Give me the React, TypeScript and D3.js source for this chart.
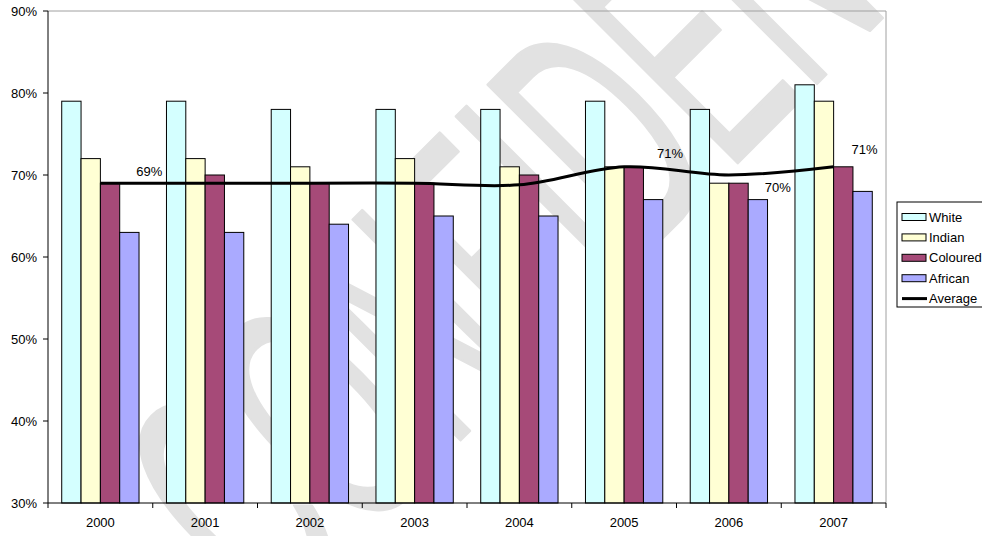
import * as d3 from "d3";
import { useEffect } from "react";

const years = ["2000", "2001", "2002", "2003", "2004", "2005", "2006", "2007"];
const seriesNames = ["White", "Indian", "Coloured", "African"];
const white = [79, 79, 78, 78, 78, 79, 78, 81];
const indian = [72, 72, 71, 72, 71, 71, 69, 79];
const coloured = [69, 70, 69, 69, 70, 71, 69, 71];
const african = [63, 63, 64, 65, 65, 67, 67, 68];
const average = [69, 69, 69, 69, 68.8, 71, 70, 71];
// which average points carry a label
const labelled = [0, 5, 6, 7];
const yTicks = [30, 40, 50, 60, 70, 80, 90];

const colours = ["#D4FFFF", "#FFFFD4", "#A64A78", "#AAAAFF"];

const width = 982;
const height = 536;
const margin = { left: 48, right: 96, top: 11, bottom: 33 };
const font = "'Liberation Sans', Arial, sans-serif";

export default function App() {
  useEffect(() => {
    document.body.style.margin = "0";
  }, []);

  const values = [white, indian, coloured, african];

  const x = d3.scaleBand()
    .domain(years)
    .range([margin.left, width - margin.right]);
  const xInner = d3.scaleBand()
    .domain(seriesNames)
    .range([0, x.bandwidth()])
    .paddingInner(0)
    .paddingOuter(0.71);
  const y = d3.scaleLinear()
    .domain([30, 90])
    .range([height - margin.bottom, margin.top]);

  const line = d3.line<number>()
    .x((_, i) => (x(years[i]) ?? 0) + x.bandwidth() / 2)
    .y((d) => y(d))
    .curve(d3.curveCatmullRom.alpha(0));

  // label nudges relative to the average point, in px
  const nudge: Record<number, [number, number]> = {
    0: [49, -12],
    5: [46, -13],
    6: [49, 12],
    7: [31, -17],
  };

  const x0 = margin.left;
  const x1 = width - margin.right;
  const yBottom = y(30);
  const yTop = y(90);

  const legendItems = [...seriesNames, "Average"];

  return (
    <svg
      width={width}
      height={height}
      viewBox={`0 0 ${width} ${height}`}
      style={{ display: "block", background: "#fff" }}
      fontFamily={font}
    >
      {/* watermark */}
      <text
        transform="translate(272,628) rotate(-45) scale(0.6,1.2)"
        fontSize={280}
        fill="#e2e2e2"
        stroke="#e2e2e2"
        strokeWidth={3}
        strokeLinejoin="round"
        fontFamily={font}
      >
        CONFIDENTIAL
      </text>

      {/* plot frame */}
      <line x1={x0} x2={x1} y1={yTop} y2={yTop} stroke="#a0a0a0" />
      <line x1={x1} x2={x1} y1={yTop} y2={yBottom} stroke="#a0a0a0" />

      {/* bars */}
      {years.map((yr, i) => (
        <g key={yr} transform={`translate(${x(yr)},0)`}>
          {seriesNames.map((s, j) => (
            <rect
              key={s}
              x={xInner(s)}
              y={y(values[j][i])}
              width={xInner.bandwidth()}
              height={yBottom - y(values[j][i])}
              fill={colours[j]}
              stroke="#000"
              strokeWidth={1}
            />
          ))}
        </g>
      ))}

      {/* axes */}
      <line x1={x0} x2={x0} y1={yTop} y2={yBottom} stroke="#000" />
      {yTicks.map((t) => (
        <g key={t}>
          <line x1={x0 - 5} x2={x0} y1={y(t)} y2={y(t)} stroke="#000" />
          <text x={37} y={y(t)} dy="0.35em" textAnchor="end" fontSize={13} fill="#000">
            {t}%
          </text>
        </g>
      ))}
      <line x1={x0} x2={x1} y1={yBottom} y2={yBottom} stroke="#000" />
      {[...years.map((yr) => x(yr) ?? 0), x1].map((px, i) => (
        <line key={i} x1={px} x2={px} y1={yBottom} y2={yBottom + 5} stroke="#000" />
      ))}
      {years.map((yr) => (
        <text
          key={yr}
          x={(x(yr) ?? 0) + x.bandwidth() / 2}
          y={522}
          dy="0.35em"
          textAnchor="middle"
          fontSize={13}
          fill="#000"
        >
          {yr}
        </text>
      ))}

      {/* average line */}
      <path d={line(average) ?? ""} fill="none" stroke="#000" strokeWidth={3} />
      {labelled.map((i) => (
        <text
          key={i}
          x={(x(years[i]) ?? 0) + x.bandwidth() / 2 + nudge[i][0]}
          y={y(average[i]) + nudge[i][1]}
          dy="0.35em"
          textAnchor="middle"
          fontSize={13}
          fill="#000"
        >
          {Math.round(average[i])}%
        </text>
      ))}

      {/* legend */}
      <rect x={897} y={202} width={100} height={105} fill="#fff" stroke="#000" />
      {legendItems.map((name, k) => {
        const cy = 217 + k * 20.4;
        return (
          <g key={name}>
            {k < 4 ? (
              <rect x={902} y={cy - 3.5} width={24} height={7} fill={colours[k]} stroke="#000" />
            ) : (
              <line x1={902} x2={927} y1={cy} y2={cy} stroke="#000" strokeWidth={3} />
            )}
            <text x={929} y={cy} dy="0.35em" fontSize={13} fill="#000">
              {name}
            </text>
          </g>
        );
      })}
    </svg>
  );
}
